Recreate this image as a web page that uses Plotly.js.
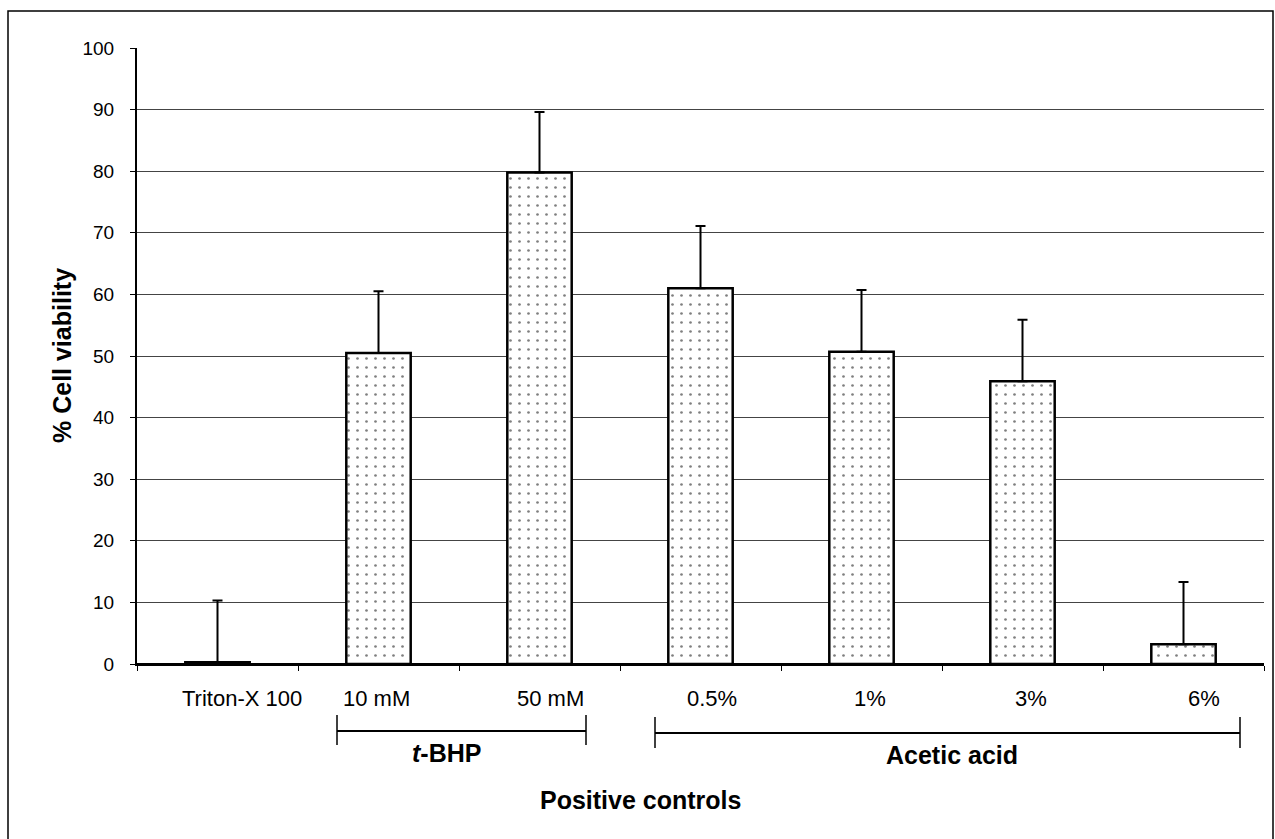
<!DOCTYPE html>
<html>
<head>
<meta charset="utf-8">
<script src="https://cdn.plot.ly/plotly-3.0.1.min.js"></script>
<style>
html,body{margin:0;padding:0;background:#fff;}
#chart{width:1275px;height:839px;}
</style>
</head>
<body>
<div id="chart"></div>
<script>
// ---- data ----
const categories = ["Triton-X 100", "10 mM", "50 mM", "0.5%", "1%", "3%", "6%"];
const viability = [0.3, 50.5, 79.8, 61.0, 50.7, 45.9, 3.2];
const errorUp = [10.0, 10.0, 9.8, 10.1, 10.0, 10.0, 10.1];
const yTicks = [0, 10, 20, 30, 40, 50, 60, 70, 80, 90, 100];
const groupLabels = ["<b><i>t</i>-BHP</b>", "<b>Acetic acid</b>"];
const xTitle = "<b>Positive controls</b>";
const yTitle = "<b>% Cell viability</b>";

// ---- style: horizontal offset (px) of each category label from its bar centre ----
const labelShift = [24, -2, 11, 11, 8, 8, 20];

// ---- layout geometry (pixels) ----
const W = 1275, H = 839;
const L = 137, R = 11, T = 48, B = 175;
const pw = W - L - R, ph = H - T - B;
const px = x => (x - L) / pw;            // pixel x -> paper
const py = y => (H - B - y) / ph;        // pixel y -> paper

const FONT = "Liberation Sans, Arial, sans-serif";

const trace = {
  type: "bar",
  x: categories,
  y: viability,
  width: 0.4,
  marker: {
    color: "#ffffff",
    line: {color: "#000000", width: 2.5},
    pattern: {shape: ".", size: 9, solidity: 0.07, fgcolor: "#000000", bgcolor: "#ffffff", fillmode: "overlay"}
  },
  error_y: {
    type: "data", symmetric: false,
    array: errorUp,
    arrayminus: errorUp.map(() => 0),
    color: "#000000", thickness: 2, width: 5
  },
  hoverinfo: "x+y"
};

const brackets = [
  {x0: 337, x1: 586, y: 731, top: 715, bot: 745, label: groupLabels[0], lx: 446, ly: 753},
  {x0: 655, x1: 1240, y: 733, top: 717, bot: 748, label: groupLabels[1], lx: 952, ly: 755}
];

const shapes = [];
const annotations = [];
categories.forEach((c, i) => {
  annotations.push({xref: "x", yref: "paper", x: c, y: py(698), text: c, showarrow: false,
    xanchor: "center", yanchor: "middle", xshift: labelShift[i],
    font: {family: FONT, size: 22, color: "#000"}});
});
brackets.forEach(b => {
  shapes.push({type: "line", xref: "paper", yref: "paper", x0: px(b.x0), x1: px(b.x1), y0: py(b.y), y1: py(b.y), line: {color: "#000", width: 2}});
  shapes.push({type: "line", xref: "paper", yref: "paper", x0: px(b.x0), x1: px(b.x0), y0: py(b.top), y1: py(b.bot), line: {color: "#000", width: 1.5}});
  shapes.push({type: "line", xref: "paper", yref: "paper", x0: px(b.x1), x1: px(b.x1), y0: py(b.top), y1: py(b.bot), line: {color: "#000", width: 1.5}});
  annotations.push({xref: "paper", yref: "paper", x: px(b.lx), y: py(b.ly), text: b.label, showarrow: false,
    xanchor: "center", yanchor: "middle", font: {family: FONT, size: 25, color: "#000"}});
});
annotations.push({xref: "paper", yref: "paper", x: px(640), y: py(800), text: xTitle, showarrow: false,
  xanchor: "center", yanchor: "middle", font: {family: FONT, size: 25, color: "#000"}});
annotations.push({xref: "paper", yref: "paper", x: px(62), y: py(356), text: yTitle, showarrow: false,
  textangle: -90, xanchor: "center", yanchor: "middle", font: {family: FONT, size: 25, color: "#000"}});
// outer frame of the figure
shapes.push({type: "rect", xref: "paper", yref: "paper", x0: px(8), x1: px(1273), y0: py(850), y1: py(11),
  line: {color: "#000", width: 1.5}, fillcolor: "rgba(0,0,0,0)", layer: "below"});

const layout = {
  width: W, height: H,
  margin: {l: L, r: R, t: T, b: B, pad: 0},
  paper_bgcolor: "#fff", plot_bgcolor: "#fff",
  showlegend: false,
  font: {family: FONT, size: 19, color: "#000"},
  bargap: 0.6,
  xaxis: {
    type: "category",
    showline: true, linecolor: "#000", linewidth: 1.5,
    ticks: "outside", tickson: "boundaries", ticklen: 5, tickcolor: "#000", tickwidth: 1,
    showticklabels: false,
    showgrid: false, zeroline: false, fixedrange: true
  },
  yaxis: {
    range: [0, 100],
    tickvals: yTicks, ticktext: yTicks.map(String),
    showline: true, linecolor: "#000", linewidth: 2,
    ticks: "outside", ticklen: 5, tickcolor: "#000", tickwidth: 1,
    tickfont: {family: FONT, size: 19, color: "#000"},
    ticklabelstandoff: 12,
    showgrid: true, gridcolor: "#444", gridwidth: 1,
    zeroline: true, zerolinecolor: "#000", zerolinewidth: 1.5,
    fixedrange: true
  },
  shapes: shapes,
  annotations: annotations
};

Plotly.newPlot("chart", [trace], layout, {displayModeBar: false, staticPlot: true});
</script>
</body>
</html>
